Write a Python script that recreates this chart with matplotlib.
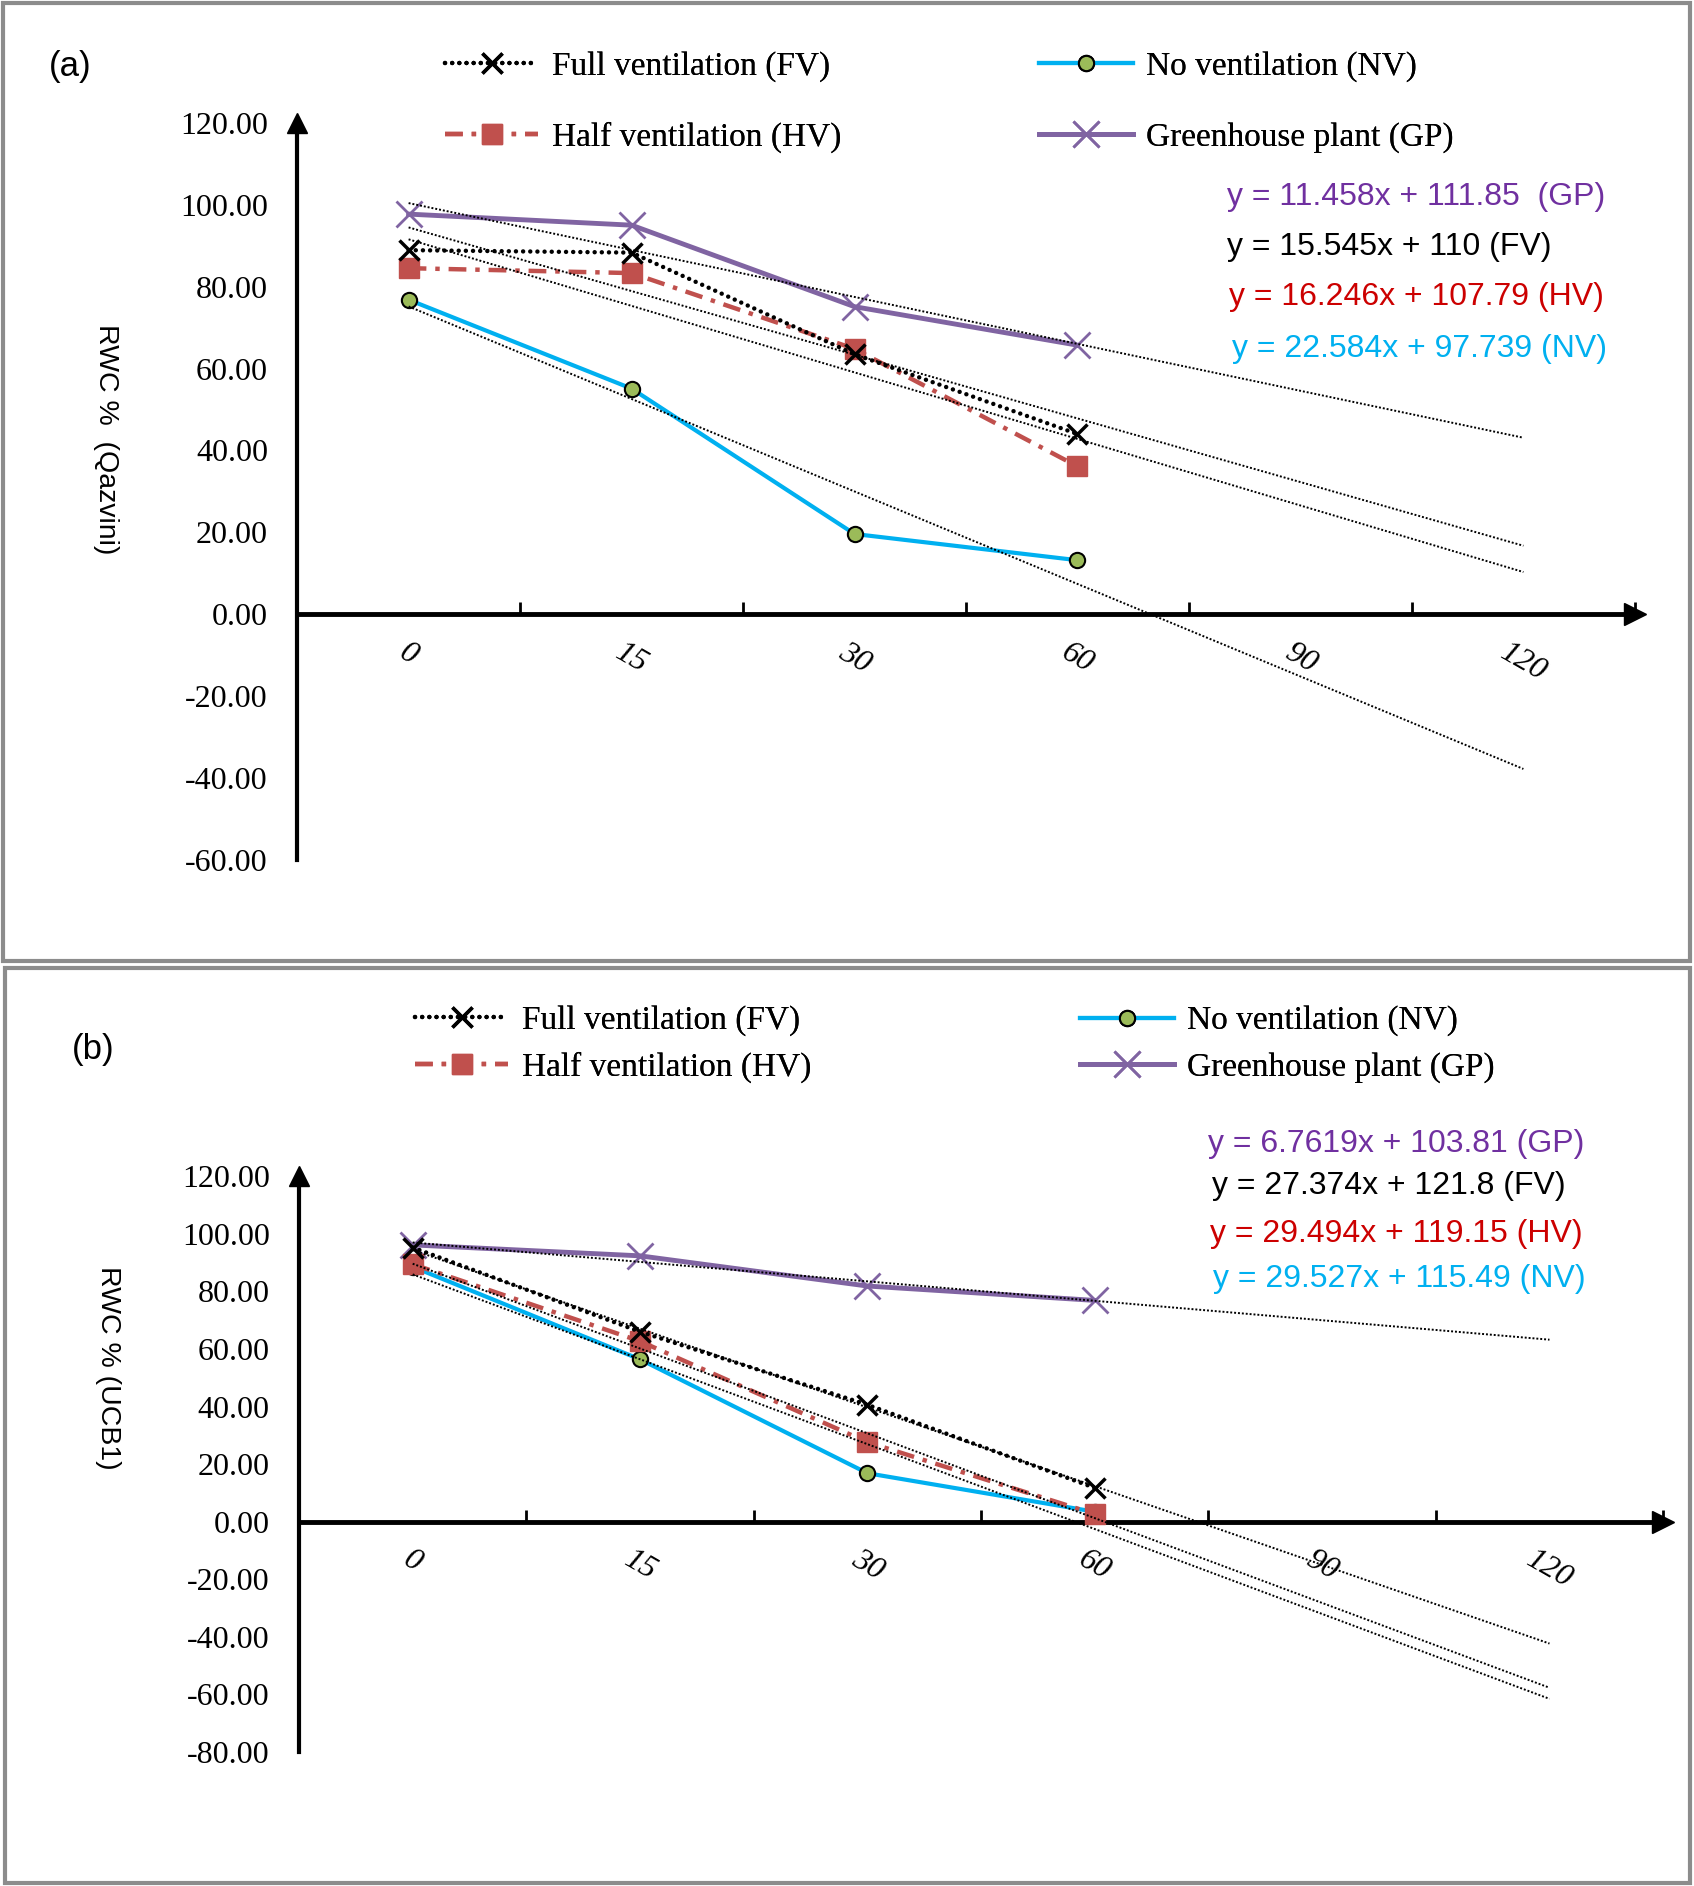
import matplotlib
matplotlib.use("Agg")
import numpy as np
import matplotlib.pyplot as plt
from matplotlib.patches import Rectangle
from matplotlib.ticker import FixedLocator, FormatStrFormatter
from matplotlib.transforms import ScaledTranslation

plt.rcParams['axes.unicode_minus'] = False

# categories on the x axis (Excel-style category axis, positions 1..6)
categories = ['0', '15', '30', '60', '90', '120']

# panel (a) Qazvini
fv_a = [88.9, 88.3, 63.5, 44.0]
hv_a = [84.5, 83.3, 64.8, 36.1]
nv_a = [76.8, 55.1, 19.6, 13.2]
gp_a = [97.7, 95.0, 75.1, 65.7]
# trendline slope / intercept (on category index), order GP, FV, HV, NV
slope_a = [-11.458, -15.545, -16.246, -22.584]
icpt_a = [111.85, 110.0, 107.79, 97.739]
eq_a = ['y = 11.458x + 111.85  (GP)', 'y = 15.545x + 110 (FV)',
        'y = 16.246x + 107.79 (HV)', 'y = 22.584x + 97.739 (NV)']

# panel (b) UCB1
fv_b = [95.3, 66.0, 40.6, 11.7]
hv_b = [89.5, 62.7, 27.6, 2.6]
nv_b = [88.6, 56.4, 16.8, 3.4]
gp_b = [96.2, 92.4, 81.9, 76.9]
slope_b = [-6.7619, -27.374, -29.494, -29.527]
icpt_b = [103.81, 121.8, 119.15, 115.49]
eq_b = ['y = 6.7619x + 103.81 (GP)', 'y = 27.374x + 121.8 (FV)',
        'y = 29.494x + 119.15 (HV)', 'y = 29.527x + 115.49 (NV)']

eq_colors = ['#7030A0', 'black', '#CC0000', '#00B0F0']

serif = ['Liberation Serif', 'DejaVu Serif']
narrow = ['Liberation Sans Narrow', 'Liberation Sans', 'DejaVu Sans']
sans = ['Liberation Sans', 'DejaVu Sans']

fig = plt.figure(figsize=(16.94, 18.86), dpi=100)

# panel frames
fig.patches.append(Rectangle((0.0015, 0.4905), 0.996, 0.508, transform=fig.transFigure,
                             fill=False, edgecolor='#8c8c8c', lw=3))
fig.patches.append(Rectangle((0.003, 0.0015), 0.9945, 0.4855, transform=fig.transFigure,
                             fill=False, edgecolor='#8c8c8c', lw=3))


def draw_panel(rect, fv, hv, nv, gp, slopes, icpts, eqs, eq_pos, ymin, legpos, legspace,
               tag, tagpos, ylabel, ylabpos):
    ax = fig.add_axes(rect)
    x = np.arange(1, len(fv) + 1)

    l_fv, = ax.plot(x, fv, color='black', ls=(0, (0.01, 1.6)), lw=3.2, dash_capstyle='round',
                    marker='x', ms=14, mew=2.5, label='Full ventilation (FV)', zorder=4)
    l_hv, = ax.plot(x, hv, color='#C0504D', ls=(0, (4, 2, 1, 2)), lw=3.2,
                    marker='s', ms=14, label='Half ventilation (HV)', zorder=3.5)
    l_nv, = ax.plot(x, nv, color='#00B0F0', ls='-', lw=3,
                    marker='o', ms=11, mfc='#9BBB59', mec='black', mew=1.5,
                    label='No ventilation (NV)', zorder=3)
    l_gp, = ax.plot(x, gp, color='#8064A2', ls='-', lw=3.5,
                    marker='x', ms=19, mew=2, label='Greenhouse plant (GP)', zorder=3)

    # linear trendlines, forecast forward to the last category
    xt = np.array([1, len(categories)])
    for s, b in zip(slopes, icpts):
        ax.plot(xt, s * xt + b, color='black', ls=(0, (1, 1)), lw=1.4, zorder=5)

    ax.set_xlim(0.5, len(categories) + 0.5)
    ax.set_ylim(ymin, 120)
    for side in ['top', 'right']:
        ax.spines[side].set_visible(False)
    ax.spines['bottom'].set_position(('data', 0))
    ax.spines['bottom'].set_linewidth(3.5)
    ax.spines['left'].set_linewidth(3)
    ax.plot(1, 0, '>', color='black', ms=16, transform=ax.get_yaxis_transform(), clip_on=False)
    ax.plot(0, 1, '^', color='black', ms=14, transform=ax.transAxes, clip_on=False)

    ax.set_xticks(np.arange(1, len(categories) + 1))
    ax.set_xticklabels(categories, rotation=-30, style='italic', family=serif, fontsize=23)
    shift = ScaledTranslation(8 / 72, 0, fig.dpi_scale_trans)
    for t in ax.get_xticklabels():
        t.set_transform(t.get_transform() + shift)
    ax.xaxis.set_minor_locator(FixedLocator(np.arange(1.5, len(categories) + 1)))
    ax.tick_params(axis='x', which='major', length=0, pad=17)
    ax.tick_params(axis='x', which='minor', direction='in', length=9, width=2)

    ax.set_yticks(np.arange(ymin, 121, 20))
    ax.yaxis.set_major_formatter(FormatStrFormatter('%.2f'))
    ax.tick_params(axis='y', length=0, pad=21)
    for t in ax.get_yticklabels():
        t.set_family(serif)
        t.set_fontsize(23)

    for (ex, ey), txt, c in zip(eq_pos, eqs, eq_colors):
        fig.text(ex, ey, txt, color=c, fontsize=23, family=narrow, ha='left', va='center')

    hs = [l_fv, l_hv, l_nv, l_gp]
    for col, (lx, ly) in enumerate(legpos):
        leg = fig.legend(handles=hs[2 * col:2 * col + 2], loc='center left',
                         bbox_to_anchor=(lx, ly), frameon=False, numpoints=1,
                         handlelength=2.8, handletextpad=0.4, borderpad=0,
                         borderaxespad=0, labelspacing=legspace,
                         prop={'family': serif, 'size': 24})
        fig.add_artist(leg)

    fig.text(tagpos[0], tagpos[1], tag, fontsize=25, family=sans, ha='center', va='center')
    fig.text(ylabpos[0], ylabpos[1], ylabel, fontsize=20.5, family=sans, rotation=270,
             ha='center', va='center')
    return ax


draw_panel([0.1754, 0.5440, 0.7897, 0.3909], fv_a, hv_a, nv_a, gp_a, slope_a, icpt_a, eq_a,
           [(0.7243, 0.8955), (0.7243, 0.8690), (0.7255, 0.8425), (0.7273, 0.8148)],
           -60, [(0.2627, 0.9458), (0.6136, 0.9458)], 1.19,
           '(a)', (0.0413, 0.9650), 'RWC %  (Qazvini)', (0.0626, 0.7672))

draw_panel([0.1765, 0.0713, 0.8053, 0.3049], fv_b, hv_b, nv_b, gp_b, slope_b, icpt_b, eq_b,
           [(0.7131, 0.3935), (0.7155, 0.3712), (0.7143, 0.3457), (0.7161, 0.3219)],
           -80, [(0.2450, 0.4463), (0.6378, 0.4463)], 0.47,
           '(b)', (0.0549, 0.4433), 'RWC % (UCB1)', (0.0638, 0.2747))

fig.savefig('out.png', dpi=100)
